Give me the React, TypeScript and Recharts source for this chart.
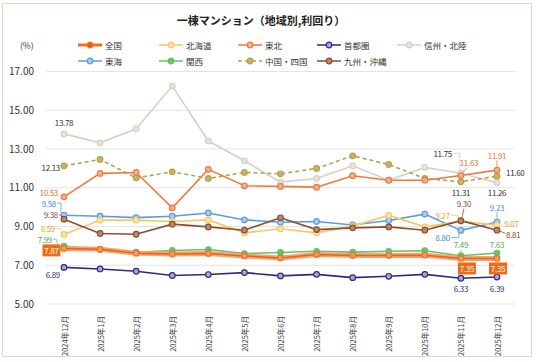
import { LineChart, Line, XAxis, YAxis, CartesianGrid } from 'recharts'

const months = ['2024年12月', '2025年1月', '2025年2月', '2025年3月', '2025年4月', '2025年5月', '2025年6月', '2025年7月', '2025年8月', '2025年9月', '2025年10月', '2025年11月', '2025年12月']

const zenkoku = [7.87, 7.83, 7.62, 7.58, 7.6, 7.48, 7.38, 7.55, 7.5, 7.5, 7.52, 7.35, 7.35]
const hokkaido = [8.59, 9.33, 9.33, 9.26, 9.34, 8.67, 8.88, 8.67, 9.02, 9.57, 8.98, 9.27, 9.07]
const tohoku = [10.53, 11.74, 11.79, 9.96, 11.95, 11.1, 11.07, 11.03, 11.62, 11.39, 11.39, 11.63, 11.91]
const shutoken = [6.89, 6.81, 6.69, 6.47, 6.52, 6.62, 6.45, 6.53, 6.36, 6.43, 6.53, 6.33, 6.39]
const shinshu = [13.78, 13.32, 14.04, 16.25, 13.41, 12.39, 11.29, 11.48, 12.13, 11.39, 12.05, 11.75, 11.26]
const tokai = [9.58, 9.53, 9.46, 9.53, 9.7, 9.34, 9.22, 9.26, 9.08, 9.31, 9.64, 8.8, 9.23]
const kansai = [7.99, 7.81, 7.67, 7.76, 7.81, 7.6, 7.66, 7.72, 7.68, 7.72, 7.75, 7.49, 7.63]
const chugoku = [12.13, 12.46, 11.51, 11.82, 11.48, 11.79, 11.72, 12.0, 12.65, 12.2, 11.48, 11.31, 11.6]
const kyushu = [9.38, 8.64, 8.6, 9.12, 8.98, 8.81, 9.45, 8.84, 8.93, 8.98, 8.81, 9.3, 8.81]

const yTicks = [5, 7, 9, 11, 13, 15, 17]

const data = months.map((m, i) => ({
  month: m,
  zenkoku: zenkoku[i],
  hokkaido: hokkaido[i],
  tohoku: tohoku[i],
  shutoken: shutoken[i],
  shinshu: shinshu[i],
  tokai: tokai[i],
  kansai: kansai[i],
  chugoku: chugoku[i],
  kyushu: kyushu[i],
}))

const FONT = '"Noto Sans CJK JP", "Noto Sans", sans-serif'

type Series = { key: string; name: string; color: string; fill: string; label: string; dash?: string }

const SERIES: Series[] = [
  { key: 'zenkoku', name: '全国', color: '#EE7028', fill: '#F39A5C', label: '#fff' },
  { key: 'hokkaido', name: '北海道', color: '#F5C865', fill: '#FBE3A8', label: '#E5A82A' },
  { key: 'tohoku', name: '東北', color: '#EB7A42', fill: '#F5B08C', label: '#E8702E' },
  { key: 'shutoken', name: '首都圏', color: '#2E2C7E', fill: '#A9A8D0', label: '#2E2C7E' },
  { key: 'shinshu', name: '信州・北陸', color: '#D8D0C2', fill: '#E8E3DA', label: '#333' },
  { key: 'tokai', name: '東海', color: '#5B9BE0', fill: '#A8CBF2', label: '#4A8BDB' },
  { key: 'kansai', name: '関西', color: '#6BBE6B', fill: '#6BBE6B', label: '#4FAE4F' },
  { key: 'chugoku', name: '中国・四国', color: '#B9A04A', fill: '#C9B266', label: '#333', dash: '4 3' },
  { key: 'kyushu', name: '九州・沖縄', color: '#8B4E2E', fill: '#B78A70', label: '#8B4E2E' },
]

type Lab = { dx: number; dy: number; anchor?: 'start' | 'middle' | 'end'; leader?: number[][]; box?: boolean }

// label offsets relative to the point, only for first / Nov / Dec
const LABELS: Record<string, Record<number, Lab>> = {
  shinshu: { 0: { dx: 0, dy: -11 }, 11: { dx: -9, dy: -20, anchor: 'end', leader: [[-8, -20], [-1, -20], [-1, -3]] }, 12: { dx: 0, dy: 10 } },
  chugoku: { 0: { dx: -4, dy: 2, anchor: 'end' }, 11: { dx: 0, dy: 11 }, 12: { dx: 9, dy: -4, anchor: 'start' } },
  tohoku: { 0: { dx: -6, dy: -4, anchor: 'end' }, 11: { dx: 8, dy: -13, leader: [[6, -8], [2, -3]] }, 12: { dx: 0, dy: -15, leader: [[0, -10], [0, -3]] } },
  tokai: { 0: { dx: -8, dy: -12, anchor: 'end', leader: [[-7, -12], [-3, -12], [-3, -2]] }, 11: { dx: -11, dy: 7, anchor: 'end', leader: [[-10, 7], [-2, 7], [-2, 3]] }, 12: { dx: 0, dy: -15, leader: [[0, -10], [0, -3]] } },
  kyushu: { 0: { dx: -6, dy: -5, anchor: 'end', leader: [[-5, -5], [-2, -2]] }, 11: { dx: 3, dy: -17, leader: [[3, -12], [1, -3]] }, 12: { dx: 9, dy: 4.5, anchor: 'start', leader: [[8, 3], [3, 1]] } },
  hokkaido: { 0: { dx: -9, dy: -6, anchor: 'end', leader: [[-8, -6], [-4, -6], [-2, -3]] }, 11: { dx: -11, dy: -6, anchor: 'end', leader: [[-10, -6], [-3, -6], [-2, -2]] }, 12: { dx: 7, dy: -1.5, anchor: 'start' } },
  kansai: { 0: { dx: -12, dy: -7, anchor: 'end', leader: [[-11, -7], [-8, -7], [-6, -2]] }, 11: { dx: 0, dy: -11, leader: [[0, -6], [0, -3]] }, 12: { dx: 0, dy: -9 } },
  zenkoku: { 0: { dx: -12.5, dy: 2, box: true }, 11: { dx: 6, dy: 10, box: true }, 12: { dx: 1, dy: 10, box: true } },
  shutoken: { 0: { dx: -4, dy: 7, anchor: 'end' }, 11: { dx: 0, dy: 10 }, 12: { dx: 0, dy: 11 } },
}

const makeDot = (s: Series) => (props: any) => {
  const { cx, cy, index, payload } = props
  const lab = LABELS[s.key]?.[index]
  const v = payload[s.key] as number
  return (
    <g key={`${s.key}-${index}`}>
      <circle cx={cx} cy={cy} r={2.8} fill={s.fill} stroke={s.color} strokeWidth={1.2} />
      {lab && lab.leader && (
        <polyline points={lab.leader.map(([a, b]) => `${cx + a},${cy + b}`).join(' ')} fill="none" stroke={s.color} strokeWidth={0.8} />
      )}
      {lab && lab.box && (
        <rect x={cx + lab.dx - 9} y={cy + lab.dy - 6} width={18} height={12} fill="#EF6A12" />
      )}
      {lab && (
        <text
          x={cx + lab.dx}
          y={cy + lab.dy}
          textAnchor={lab.anchor ?? 'middle'}
          dominantBaseline="central"
          fontSize={8}
          letterSpacing={-0.3}
          fontFamily={FONT}
          fill={s.label}
        >
          {v.toFixed(2)}
        </text>
      )}
    </g>
  )
}

const XTick = ({ x, y, payload }: any) => (
  <text transform={`translate(${x},${y + 4}) rotate(-90)`} textAnchor="end" dominantBaseline="central" fontSize={7.5} fontFamily={FONT} fill="#444">
    {payload.value}
  </text>
)

const legendCols = [77, 158, 237, 316, 396]

function LegendItem({ s, x, y }: { s: Series; x: number; y: number }) {
  const thick = s.key === 'zenkoku'
  return (
    <div style={{ position: 'absolute', left: x, top: y - 6, height: 12, display: 'flex', alignItems: 'center' }}>
      <svg width={26} height={12}>
        <line x1={1} y1={6} x2={25} y2={6} stroke={s.color} strokeWidth={thick ? 3 : 1.5} strokeDasharray={s.dash} />
        <circle cx={13} cy={6} r={2.8} fill={thick ? '#E0600E' : s.fill} stroke={s.color} strokeWidth={1.2} />
      </svg>
      <span style={{ fontSize: 8.5, color: '#333', marginLeft: 2, whiteSpace: 'nowrap' }}>{s.name}</span>
    </div>
  )
}

export default function App() {
  const legendOrder = ['zenkoku', 'hokkaido', 'tohoku', 'shutoken', 'shinshu', 'tokai', 'kansai', 'chugoku', 'kyushu']
  const drawOrder = ['shinshu', 'chugoku', 'tohoku', 'tokai', 'hokkaido', 'kyushu', 'shutoken', 'kansai', 'zenkoku']
  return (
    <div style={{ position: 'relative', width: 536, height: 362, fontFamily: FONT, background: '#fff' }}>
      <style>{'body{margin:0}'}</style>
      <div style={{ position: 'absolute', left: 2, top: 3, width: 530, height: 354, border: '1px solid #E2D9C6', boxSizing: 'border-box' }} />
      <div style={{ position: 'absolute', left: 0, width: 522, top: 12, textAlign: 'center', fontSize: 11, fontWeight: 700, color: '#222' }}>
        一棟マンション（地域別,利回り）
      </div>
      <div style={{ position: 'absolute', left: 20, top: 39, fontSize: 8.5, color: '#333' }}>(%)</div>
      {legendOrder.map((k, i) => {
        const s = SERIES.find((q) => q.key === k)!
        return <LegendItem key={k} s={s} x={legendCols[i % 5]} y={i < 5 ? 45 : 61} />
      })}
      <div style={{ position: 'absolute', left: 0, top: 0 }}>
        <LineChart width={536} height={362} data={data} margin={{ top: 71.5, right: 21, bottom: 0, left: 0 }}>
          <CartesianGrid horizontal vertical={false} stroke="#E3E3E3" />
          <XAxis dataKey="month" interval={0} height={58} padding={{ left: 18, right: 18 }} tick={<XTick />} axisLine={false} tickLine={false} />
          <YAxis
            domain={[5, 17]}
            ticks={yTicks}
            width={46}
            tickFormatter={(v: number) => v.toFixed(2)}
            axisLine={false}
            tickLine={false}
            tickMargin={6}
            tick={{ fontSize: 10, fill: '#333', fontFamily: FONT }}
          />
          {drawOrder.map((k) => {
            const s = SERIES.find((q) => q.key === k)!
            if (k === 'zenkoku') {
              return [
                <Line key="zk-band" dataKey="zenkoku" stroke="#F6A46E" strokeWidth={5} dot={false} activeDot={false} isAnimationActive={false} />,
                <Line key="zk" dataKey="zenkoku" stroke="#E8621A" strokeWidth={1.5} dot={makeDot(s)} activeDot={false} isAnimationActive={false} />,
              ]
            }
            return (
              <Line
                key={k}
                dataKey={k}
                stroke={s.color}
                strokeWidth={1.6}
                strokeDasharray={s.dash}
                dot={makeDot(s)}
                activeDot={false}
                isAnimationActive={false}
              />
            )
          })}
        </LineChart>
      </div>
    </div>
  )
}
